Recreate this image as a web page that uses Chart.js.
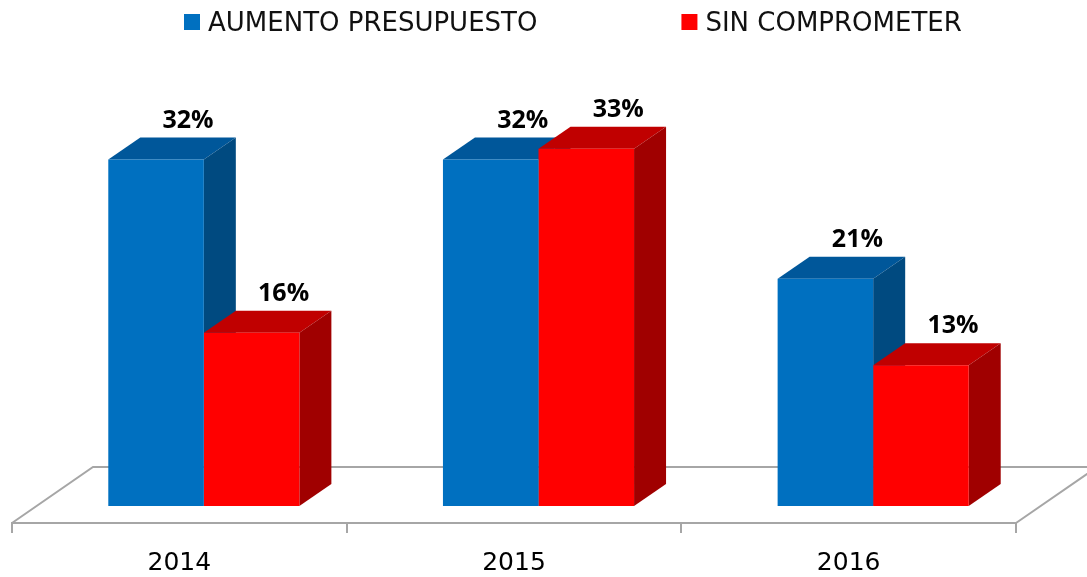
<!DOCTYPE html>
<html>
<head>
<meta charset="utf-8">
<script src="https://cdn.jsdelivr.net/npm/chart.js@4.4.0/dist/chart.umd.min.js"></script>
<style>
html, body { margin: 0; padding: 0; background: #fff; }
#contenedor { width: 1087px; height: 577px; }
</style>
</head>
<body>
<div id="contenedor"><canvas id="grafico" width="1087" height="577"></canvas></div>
<script>
/*Datos del grafico*/
var categorias = ['2014', '2015', '2016'];
var nombresSeries = ['AUMENTO PRESUPUESTO', 'SIN COMPROMETER'];
var aumentoPresupuesto = [32, 32, 21];
var sinComprometer = [16, 33, 13];

/*Estilos*/
var coloresFrente = ['#0070C0', '#FF0000'];
var coloresTapa = ['#00579A', '#C00000'];
var coloresLado = ['#004A80', '#A00000'];
var COLOR_PISO = '#A6A6A6';
var PROF_BARRA = {x: 32, y: -22};
var PROF_PISO = {x: 81, y: -56};
var DESPLAZA = {x: (PROF_PISO.x - PROF_BARRA.x) / 2, y: (PROF_PISO.y - PROF_BARRA.y) / 2};

/*Dibuja tapa y lado de una barra*/
function dibujarCaras(ctx, el, iSerie){
    var p = el.getProps(['x', 'y', 'base', 'width'], true),
        izq = p.x - p.width / 2, der = p.x + p.width / 2;
    ctx.fillStyle = coloresTapa[iSerie];
    ctx.beginPath();
    ctx.moveTo(izq, p.y);
    ctx.lineTo(der, p.y);
    ctx.lineTo(der + PROF_BARRA.x, p.y + PROF_BARRA.y);
    ctx.lineTo(izq + PROF_BARRA.x, p.y + PROF_BARRA.y);
    ctx.closePath();
    ctx.fill();
    ctx.fillStyle = coloresLado[iSerie];
    ctx.beginPath();
    ctx.moveTo(der, p.y);
    ctx.lineTo(der + PROF_BARRA.x, p.y + PROF_BARRA.y);
    ctx.lineTo(der + PROF_BARRA.x, p.base + PROF_BARRA.y);
    ctx.lineTo(der, p.base);
    ctx.closePath();
    ctx.fill();
}

var barras3d = {
    id: 'barras3d',
    beforeDatasetsDraw: function(chart){
        var ctx = chart.ctx, area = chart.chartArea, iSerie, iDato, meta;
        /*piso*/
        ctx.save();
        ctx.strokeStyle = COLOR_PISO;
        ctx.lineWidth = 2;
        ctx.beginPath();
        ctx.moveTo(area.left, area.bottom);
        ctx.lineTo(area.left + PROF_PISO.x, area.bottom + PROF_PISO.y);
        ctx.lineTo(area.right + PROF_PISO.x, area.bottom + PROF_PISO.y);
        ctx.lineTo(area.right, area.bottom);
        ctx.stroke();
        ctx.restore();
        /*barras movidas al centro del piso*/
        ctx.save();
        ctx.translate(DESPLAZA.x, DESPLAZA.y);
        for(iDato = 0; iDato < categorias.length; iDato++){
            for(iSerie = 0; iSerie < chart.data.datasets.length; iSerie++){
                meta = chart.getDatasetMeta(iSerie);
                dibujarCaras(ctx, meta.data[iDato], iSerie);
            }
        }
    },
    afterDatasetsDraw: function(chart){
        var ctx = chart.ctx, iSerie, iDato, meta, p;
        ctx.font = 'bold 25px "Open Sans"';
        ctx.fillStyle = '#000';
        ctx.textAlign = 'center';
        ctx.textBaseline = 'alphabetic';
        for(iSerie = 0; iSerie < chart.data.datasets.length; iSerie++){
            meta = chart.getDatasetMeta(iSerie);
            for(iDato = 0; iDato < meta.data.length; iDato++){
                p = meta.data[iDato].getProps(['x', 'y'], true);
                ctx.fillText(chart.data.datasets[iSerie].data[iDato] + '%',
                    p.x + PROF_BARRA.x, p.y + PROF_BARRA.y - 10);
            }
        }
        ctx.restore();
    },
    afterDraw: function(chart){
        /*leyenda*/
        var ctx = chart.ctx, x = 184, iSerie, texto;
        ctx.save();
        ctx.font = '26px "DejaVu Sans"';
        ctx.textAlign = 'left';
        ctx.textBaseline = 'alphabetic';
        for(iSerie = 0; iSerie < chart.data.datasets.length; iSerie++){
            texto = chart.data.datasets[iSerie].label;
            ctx.fillStyle = coloresFrente[iSerie];
            ctx.fillRect(x, 14, 16, 16);
            ctx.fillStyle = '#111';
            ctx.fillText(texto, x + 24, 31);
            x += 24 + ctx.measureText(texto).width + 144;
        }
        ctx.restore();
    }
};

new Chart(document.getElementById('grafico'), {
    type: 'bar',
    data: {
        labels: categorias,
        datasets: [
            {label: nombresSeries[0], data: aumentoPresupuesto, backgroundColor: coloresFrente[0],
                borderWidth: 0, categoryPercentage: 0.571, barPercentage: 1, clip: false},
            {label: nombresSeries[1], data: sinComprometer, backgroundColor: coloresFrente[1],
                borderWidth: 0, categoryPercentage: 0.571, barPercentage: 1, clip: false}
        ]
    },
    options: {
        responsive: false,
        animation: false,
        devicePixelRatio: 1,
        layout: {padding: {top: 90, left: 12, right: 71, bottom: 0}},
        plugins: {legend: {display: false}, tooltip: {enabled: false}},
        scales: {
            x: {
                afterFit: function(scale){ scale.height = 54; },
                grid: {display: true, drawOnChartArea: false, drawTicks: true, tickLength: 10,
                    color: COLOR_PISO, lineWidth: 2, offset: true},
                border: {display: true, color: COLOR_PISO, width: 2},
                ticks: {color: '#000', font: {family: 'DejaVu Sans', size: 25}, padding: 15}
            },
            y: {display: false, min: 0, max: 40}
        }
    },
    plugins: [barras3d]
});
</script>
</body>
</html>
